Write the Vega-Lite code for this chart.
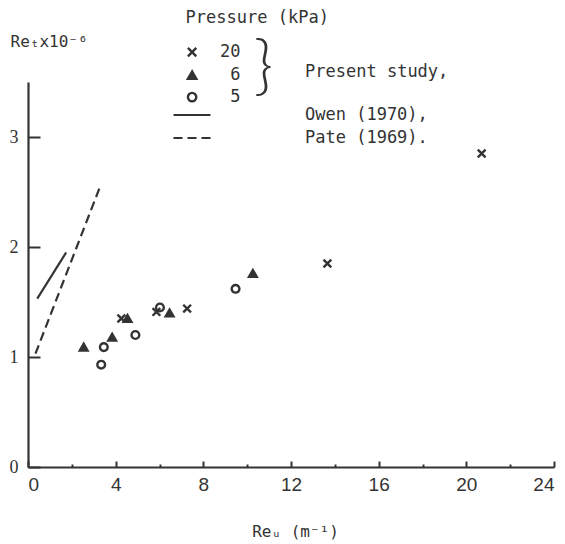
{
  "$schema": "https://vega.github.io/schema/vega-lite/v6.json",
  "autosize": {"type": "none"},
  "width": 526,
  "height": 385,
  "padding": {"left": 28, "top": 82, "right": 11, "bottom": 77},
  "background": "white",
  "config": {
    "view": {"stroke": null},
    "font": "DejaVu Sans Mono",
    "axis": {"grid": false, "domainColor": "#333", "domainWidth": 2.2, "tickColor": "#333", "tickWidth": 2, "labelColor": "#333", "titleColor": "#333"}
  },
  "datasets": {
    "pts": [
      {"x": 2.54, "y": 1.09, "p": "6"},
      {"x": 3.46, "y": 1.09, "p": "5"},
      {"x": 3.34, "y": 0.93, "p": "5"},
      {"x": 3.84, "y": 1.18, "p": "6"},
      {"x": 4.26, "y": 1.35, "p": "20"},
      {"x": 4.54, "y": 1.35, "p": "6"},
      {"x": 4.90, "y": 1.20, "p": "5"},
      {"x": 5.86, "y": 1.41, "p": "20"},
      {"x": 6.02, "y": 1.45, "p": "5"},
      {"x": 6.46, "y": 1.40, "p": "6"},
      {"x": 7.26, "y": 1.44, "p": "20"},
      {"x": 9.47, "y": 1.62, "p": "5"},
      {"x": 10.26, "y": 1.76, "p": "6"},
      {"x": 13.66, "y": 1.85, "p": "20"},
      {"x": 20.70, "y": 2.85, "p": "20"}
    ],
    "lines": [
      {"src": "Owen (1970)", "x": 0.42, "y": 1.53},
      {"src": "Owen (1970)", "x": 1.74, "y": 1.95},
      {"src": "Pate (1969)", "x": 0.34, "y": 1.03},
      {"src": "Pate (1969)", "x": 3.31, "y": 2.56}
    ],
    "brace": [{"x": 10.75, "y": 3.64, "t": "}"}],
    "note": [{"x": 12.64, "y": 3.59, "t": "Present study,"}]
  },
  "encoding": {
    "y": {
      "field": "y", "type": "quantitative",
      "scale": {"domain": [0, 3.5], "nice": false},
      "axis": {
        "values": [0, 1, 2, 3], "tickSize": -12, "labelPadding": 22,
        "labelFont": "Liberation Serif", "labelFontSize": 18,
        "title": "Reₜx10⁻⁶", "titleAngle": 0, "titleAlign": "left", "titleBaseline": "alphabetic",
        "titleX": -18, "titleY": -36, "titleFont": "DejaVu Sans Mono", "titleFontSize": 16, "titleFontWeight": "normal"
      }
    }
  },
  "layer": [
    {
      "data": {"name": "pts"},
      "mark": {"type": "point", "opacity": 1, "size": 60},
      "encoding": {
        "x": {
          "field": "x", "type": "quantitative",
          "scale": {"domain": [0, 24], "nice": false},
          "axis": {
            "orient": "bottom", "values": [0, 4, 8, 12, 16, 20, 24], "tickSize": -6, "labelPadding": 14,
            "labelFont": "Liberation Sans", "labelFontSize": 19,
            "title": "Reᵤ (m⁻¹)", "titleX": 267, "titleY": 69, "titleBaseline": "alphabetic",
            "titleFont": "DejaVu Sans Mono", "titleFontSize": 16, "titleFontWeight": "normal"
          }
        },
        "stroke": {"value": "#333"},
        "strokeWidth": {"value": 2.4},
        "shape": {
          "field": "p", "type": "nominal",
          "scale": {"domain": ["20", "6", "5"], "range": ["M-1,-1L1,1M1,-1L-1,1", "triangle-up", "circle"]},
          "legend": {
            "title": "Pressure (kPa)", "orient": "none", "legendX": 157.6, "legendY": -72.4,
            "titleFont": "DejaVu Sans Mono", "titleFontSize": 17, "titleFontWeight": "normal", "titleColor": "#333", "titlePadding": 17,
            "labelFont": "DejaVu Sans Mono", "labelFontSize": 17, "labelColor": "#333", "labelAlign": "right", "labelOffset": 40,
            "rowPadding": 4, "symbolOffset": -2, "symbolSize": 70, "symbolStrokeWidth": 2.4, "padding": 0
          }
        },
        "fill": {
          "field": "p", "type": "nominal",
          "scale": {"domain": ["20", "6", "5"], "range": ["transparent", "#333", "transparent"]},
          "legend": {
            "title": "Pressure (kPa)", "orient": "none", "legendX": 157.6, "legendY": -72.4,
            "titleFont": "DejaVu Sans Mono", "titleFontSize": 17, "titleFontWeight": "normal", "titleColor": "#333", "titlePadding": 17,
            "labelFont": "DejaVu Sans Mono", "labelFontSize": 17, "labelColor": "#333", "labelAlign": "right", "labelOffset": 40,
            "rowPadding": 4, "symbolOffset": -2, "symbolSize": 70, "symbolStrokeWidth": 2.4, "padding": 0
          }
        }
      }
    },
    {
      "data": {"name": "lines"},
      "mark": {"type": "line", "strokeWidth": 2.2, "color": "#333"},
      "encoding": {
        "x": {
          "field": "x", "type": "quantitative",
          "scale": {"domain": [0, 24], "nice": false},
          "axis": {"orient": "bottom", "values": [2, 6, 10, 14, 18, 22], "tickSize": -3, "labels": false, "domain": false, "title": null}
        },
        "strokeDash": {
          "field": "src", "type": "nominal",
          "scale": {"domain": ["Owen (1970)", "Pate (1969)"], "range": [[1, 0], [9, 5]]},
          "legend": {
            "title": null, "orient": "none", "legendX": 141.5, "legendY": 24.5,
            "symbolType": "M-3.7,0H3.7", "symbolSize": 100, "symbolOffset": 14, "symbolStrokeWidth": 2.2, "symbolStrokeColor": "#333",
            "labelFont": "DejaVu Sans Mono", "labelFontSize": 17, "labelColor": "#333", "labelOffset": 104.5, "rowPadding": 5, "padding": 0,
            "labelExpr": "datum.label == 'Owen (1970)' ? 'Owen (1970),' : 'Pate (1969).'"
          }
        }
      }
    },
    {
      "data": {"name": "brace"},
      "mark": {"type": "text", "font": "Lato", "fontWeight": 300, "fontSize": 66, "color": "#333", "align": "center", "baseline": "middle"},
      "encoding": {
        "x": {"field": "x", "type": "quantitative", "scale": {"domain": [0, 24], "nice": false}, "axis": null},
        "text": {"field": "t"}
      }
    },
    {
      "data": {"name": "note"},
      "mark": {"type": "text", "font": "DejaVu Sans Mono", "fontSize": 17, "color": "#333", "align": "left", "baseline": "middle"},
      "encoding": {
        "x": {"field": "x", "type": "quantitative", "scale": {"domain": [0, 24], "nice": false}, "axis": null},
        "text": {"field": "t"}
      }
    }
  ],
  "resolve": {"axis": {"x": "independent"}}
}
